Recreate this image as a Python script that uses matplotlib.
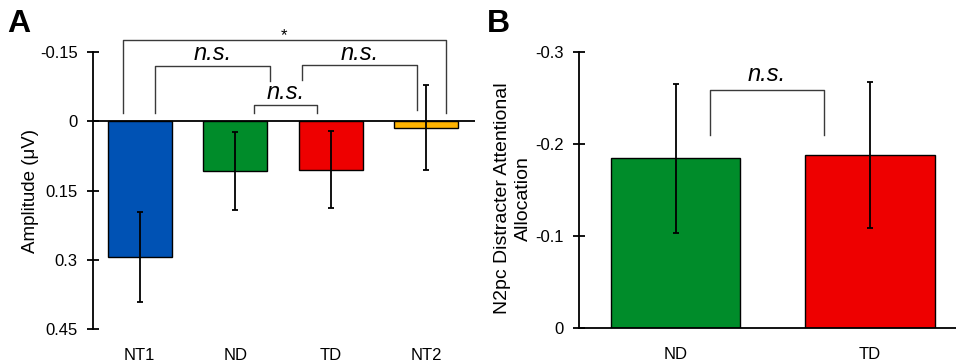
import matplotlib
matplotlib.use("Agg")
import matplotlib.pyplot as plt
import numpy as np

plt.rcParams['font.family'] = ['Liberation Sans', 'DejaVu Sans']

# Panel A data
cats_a = ["NT1", "ND", "TD", "NT2"]
vals_a = [0.294, 0.108, 0.105, 0.014]
errs_a = [0.098, 0.085, 0.083, 0.092]
colors_a = ["#0052B4", "#008C2A", "#EE0000", "#FFB300"]
yticks_a = [-0.15, 0, 0.15, 0.3, 0.45]
yticklabels_a = ["-0.15", "0", "0.15", "0.3", "0.45"]

# Panel B data
cats_b = ["ND", "TD"]
vals_b = [-0.1845, -0.188]
errs_b = [0.081, 0.0795]
colors_b = ["#008C2A", "#EE0000"]
yticks_b = [-0.3, -0.2, -0.1, 0]
yticklabels_b = ["-0.3", "-0.2", "-0.1", "0"]

W, H = 956, 363
fig = plt.figure(figsize=(W / 100, H / 100), dpi=100)

def px_axes(l, t, r, b):
    return fig.add_axes([l / W, 1 - b / H, (r - l) / W, (b - t) / H])

bracket_color = "#3a3a3a"

def style_axes(ax):
    for s in ["top", "right", "bottom"]:
        ax.spines[s].set_visible(False)
    ax.spines["left"].set_linewidth(1.3)
    ax.tick_params(axis="y", direction="inout", length=8, width=1.3, labelsize=12, pad=7)
    ax.tick_params(axis="x", length=0, labelsize=12, pad=14)

# ---- Panel A ----
axA = px_axes(93, 52, 475, 329)
xa = np.arange(len(cats_a))
axA.bar(xa, vals_a, width=0.67, color=colors_a, edgecolor="black", linewidth=1.0, zorder=2)
axA.errorbar(xa, vals_a, yerr=errs_a, fmt="none", ecolor="black", elinewidth=1.3,
             capsize=2, capthick=1.3, zorder=3)
axA.axhline(0, color="black", linewidth=1.3, zorder=4)
axA.set_xlim(-0.49, 3.51)
axA.set_ylim(0.45, -0.15)
axA.set_yticks(yticks_a)
axA.set_yticklabels(yticklabels_a)
axA.set_xticks(xa)
axA.set_xticklabels(cats_a)
style_axes(axA)
axA.set_ylabel("Amplitude (μV)", fontsize=13.5, labelpad=1)

def bracket(ax, x1, x2, top, y1, y2, text, ty, fs=17, style="italic"):
    ax.plot([x1, x1, x2, x2], [y1, top, top, y2], color=bracket_color,
            linewidth=1.0, clip_on=False, zorder=5)
    ax.text((x1 + x2) / 2, ty, text, ha="center", va="center", fontsize=fs,
            style=style, clip_on=False)

bracket(axA, -0.178, 3.204, -0.177, -0.017, -0.017, "*", -0.186, fs=12, style="normal")
bracket(axA, 0.157, 1.361, -0.120, -0.017, -0.087, "n.s.", -0.147)
bracket(axA, 1.194, 1.853, -0.035, -0.017, -0.017, "n.s.", -0.062)
bracket(axA, 1.696, 2.90, -0.121, -0.089, -0.024, "n.s.", -0.147)

# ---- Panel B ----
axB = px_axes(579, 52, 956, 328)
xb = np.arange(len(cats_b))
axB.bar(xb, vals_b, width=0.665, color=colors_b, edgecolor="black", linewidth=1.0, zorder=2)
axB.errorbar(xb, vals_b, yerr=errs_b, fmt="none", ecolor="black", elinewidth=1.3,
             capsize=2, capthick=1.3, zorder=3)
axB.axhline(0, color="black", linewidth=1.3, zorder=4, clip_on=False)
axB.set_xlim(-0.498, 1.443)
axB.set_ylim(0, -0.3)
axB.set_yticks(yticks_b)
axB.set_yticklabels(yticklabels_b)
axB.set_xticks(xb)
axB.set_xticklabels(cats_b)
style_axes(axB)
axB.set_ylabel("N2pc Distracter Attentional\nAllocation", fontsize=14, labelpad=5,
               linespacing=1.3)
axB.yaxis.set_label_coords(-0.125, 0.47)
bracket(axB, 0.175, 0.763, -0.259, -0.21, -0.21, "n.s.", -0.276)

fig.text(7 / W, 1 - 24 / H, "A", fontsize=23, fontweight="bold", va="center", ha="left")
fig.text(487 / W, 1 - 24 / H, "B", fontsize=23, fontweight="bold", va="center", ha="left")

fig.savefig("out.png", dpi=100)
